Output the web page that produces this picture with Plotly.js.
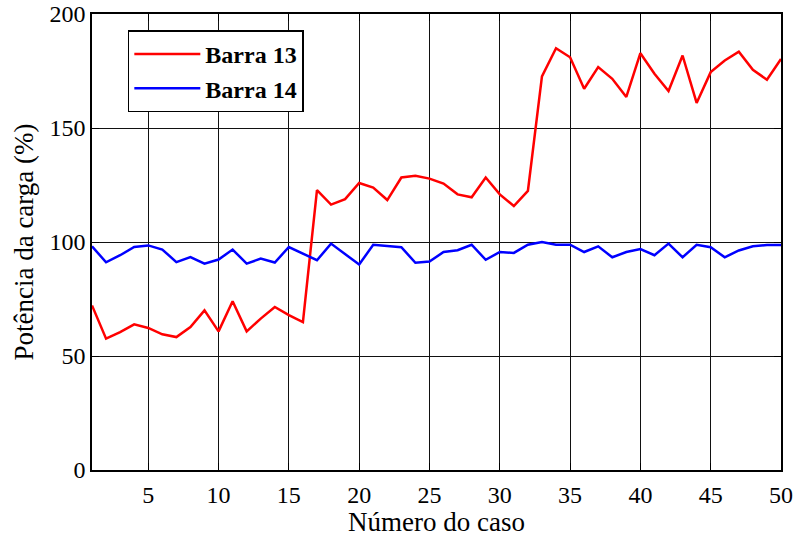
<!DOCTYPE html>
<html>
<head>
<meta charset="utf-8">
<script src="https://cdn.plot.ly/plotly-3.0.1.min.js"></script>
<style>html,body{margin:0;padding:0;background:#fff;}#chart{width:796px;height:537px;}</style>
</head>
<body>
<div id="chart"></div>
<script>
const caso = Array.from({length: 50}, (_, i) => i + 1);
const barra13 = [72.2, 57.6, 60.5, 63.9, 62.3, 59.5, 58.3, 62.7, 70.0, 60.8,
                 74.0, 60.8, 66.4, 71.5, 67.9, 64.9, 122.7, 116.4, 118.8, 125.9,
                 123.9, 118.4, 128.3, 129.0, 127.8, 125.6, 120.9, 119.6, 128.3, 120.9,
                 115.8, 122.4, 172.6, 185.0, 181.0, 167.2, 176.7, 171.6, 163.6, 182.8,
                 173.8, 166.2, 181.8, 161.0, 174.5, 179.6, 183.5, 175.5, 171.2, 180.3];
const barra14 = [98.1, 91.1, 94.2, 97.8, 98.5, 96.7, 91.2, 93.4, 90.5, 92.3,
                 96.7, 90.5, 92.7, 91.0, 97.8, 94.9, 92.0, 99.3, 94.6, 90.1,
                 98.8, 98.2, 97.7, 90.9, 91.4, 95.6, 96.4, 98.8, 92.2, 95.6,
                 95.2, 98.8, 100.0, 98.8, 98.8, 95.6, 98.1, 93.3, 95.6, 96.9,
                 94.2, 99.3, 93.3, 98.8, 97.7, 93.3, 96.3, 98.1, 98.7, 98.7];
const xTicks = [5, 10, 15, 20, 25, 30, 35, 40, 45, 50];
const yTicks = [0, 50, 100, 150, 200];

const fam = 'Liberation Serif, Times New Roman, serif';
const tickFont = {family: fam, size: 24, color: '#000'};
const titleFont = {family: fam, size: 27, color: '#000'};
const data = [
  {x: caso, y: barra13, type: 'scatter', mode: 'lines', name: 'Barra 13',
   line: {color: '#ff0000', width: 2.5}},
  {x: caso, y: barra14, type: 'scatter', mode: 'lines', name: 'Barra 14',
   line: {color: '#0000ff', width: 2.5}}
];
const axisCommon = {
  showgrid: true, gridcolor: '#111', gridwidth: 1,
  showline: true, linecolor: '#000', linewidth: 1.8, mirror: 'ticks',
  ticks: 'inside', ticklen: 7, tickcolor: '#000', zeroline: false,
  tickfont: tickFont
};
const layout = {
  width: 796, height: 537,
  margin: {l: 92, r: 15, t: 14, b: 67},
  paper_bgcolor: '#fff', plot_bgcolor: '#fff',
  font: tickFont,
  showlegend: true,
  xaxis: Object.assign({}, axisCommon, {
    range: [1, 50], tickvals: xTicks, ticktext: xTicks.map(String),
    ticklabelstandoff: 2,
    title: {text: 'Número do caso', font: titleFont, standoff: 0}
  }),
  yaxis: Object.assign({}, axisCommon, {
    range: [0, 200], tickvals: yTicks, ticktext: yTicks.map(String),
    title: {text: 'Potência da carga (%)', font: titleFont, standoff: 8}
  }),
  legend: {
    x: 0.052, y: 0.964, xanchor: 'left', yanchor: 'top',
    bgcolor: '#fff', bordercolor: '#000', borderwidth: 1.5,
    font: {family: fam, size: 24, color: '#000', weight: 'bold'},
    itemwidth: 66, tracegroupgap: 0
  }
};
Plotly.newPlot('chart', data, layout, {staticPlot: true});
</script>
</body>
</html>
